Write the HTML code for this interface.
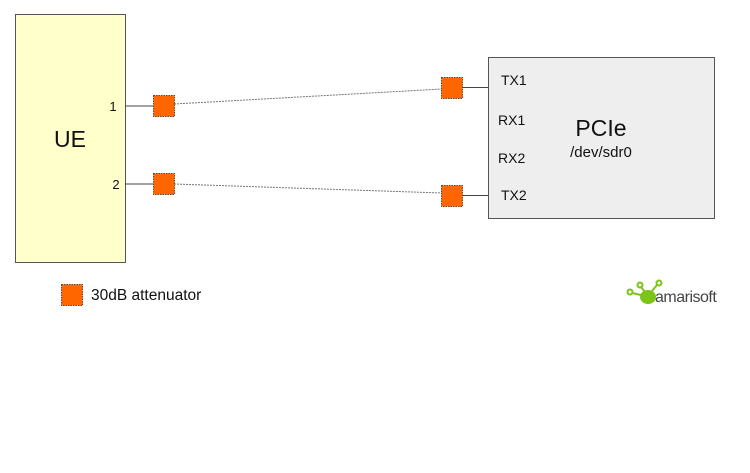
<!DOCTYPE html>
<html><head><meta charset="utf-8"><style>
body{margin:0;background:#fff;}
svg{display:block;font-family:"Liberation Sans",sans-serif;}
</style></head><body>
<svg width="750" height="473" viewBox="0 0 750 473" xmlns="http://www.w3.org/2000/svg">
<rect x="15.5" y="14.5" width="110" height="248" fill="#ffffcc" stroke="#555" stroke-width="1"/>
<text x="70" y="147" font-size="23" text-anchor="middle" fill="#111">UE</text>
<text x="113" y="111" font-size="13" text-anchor="middle" fill="#111">1</text>
<text x="116" y="189" font-size="13" text-anchor="middle" fill="#111">2</text>
<rect x="488.5" y="57.5" width="226" height="161" fill="#eeeeee" stroke="#555" stroke-width="1"/>
<text x="601" y="136" font-size="23" text-anchor="middle" fill="#111">PCIe</text>
<text x="601" y="157" font-size="15" text-anchor="middle" fill="#111">/dev/sdr0</text>
<text x="501" y="85" font-size="14" fill="#111">TX1</text>
<text x="498" y="125" font-size="14" fill="#111">RX1</text>
<text x="498" y="163" font-size="14" fill="#111">RX2</text>
<text x="501" y="200" font-size="14" fill="#111">TX2</text>
<g stroke="#444" stroke-width="1">
<line x1="125" y1="106" x2="154" y2="106"/>
<line x1="125" y1="184" x2="154" y2="184"/>
<line x1="462" y1="87.5" x2="488" y2="87.5"/>
<line x1="462" y1="195.5" x2="488" y2="195.5"/>
</g>
<g stroke="#777" stroke-width="1" stroke-dasharray="2,1">
<line x1="174" y1="104" x2="442" y2="89"/>
<line x1="174" y1="184" x2="442" y2="193"/>
</g>
<g fill="#ff6600" stroke="#664433" stroke-width="1" stroke-dasharray="1.5,1">
<rect x="153.5" y="95.5" width="21" height="21"/>
<rect x="153.5" y="173.5" width="21" height="21"/>
<rect x="441.5" y="77.5" width="21" height="21"/>
<rect x="441.5" y="185.5" width="21" height="21"/>
<rect x="61.5" y="284.5" width="21" height="21"/>
</g>
<text x="91" y="300" font-size="15.5" fill="#111">30dB attenuator</text>
<g fill="none" stroke="#7dc418" stroke-width="2">
<circle cx="630" cy="292" r="2.5"/>
<circle cx="640" cy="285" r="2.5"/>
<circle cx="659" cy="283" r="2.5"/>
<line x1="632" y1="293" x2="641" y2="295"/>
<line x1="641" y1="287" x2="645" y2="292"/>
<line x1="657" y1="285" x2="652" y2="291"/>
</g>
<ellipse cx="648" cy="297" rx="8" ry="7" fill="#7dc418"/>
<text x="655" y="302" font-size="16" fill="#444" letter-spacing="-0.5">amarisoft</text>
</svg>
</body></html>
